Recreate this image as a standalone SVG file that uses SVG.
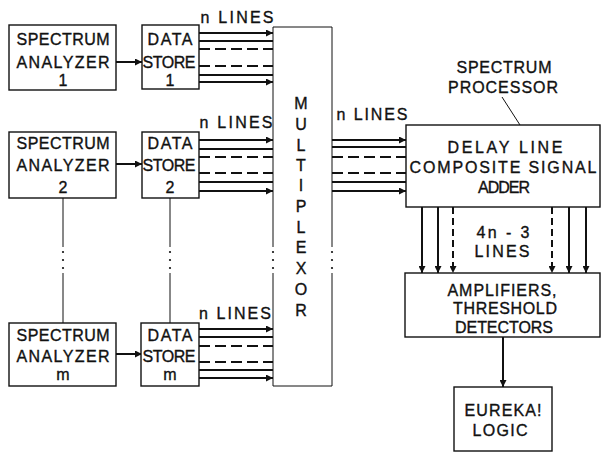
<svg xmlns="http://www.w3.org/2000/svg" width="603" height="453" viewBox="0 0 603 453">
<defs>
<style>
text{font-family:"Liberation Sans",Arial,sans-serif;font-size:16px;fill:#111;stroke:#111;stroke-width:0.35;text-anchor:middle;}
.box{fill:#fff;stroke:#111;stroke-width:1.4;}
.ln{stroke:#111;stroke-width:2;fill:none;}
.dl{stroke:#111;stroke-width:2;fill:none;stroke-dasharray:11 5;}
.dv{stroke:#111;stroke-width:2;fill:none;stroke-dasharray:7 4;}
.thin{stroke:#111;stroke-width:1;fill:none;}
.dot{fill:#111;}
</style>
<marker id="ah" viewBox="0 0 10 10" refX="10" refY="5" markerWidth="9" markerHeight="7" orient="auto" markerUnits="userSpaceOnUse">
<path d="M0,0 L10,5 L0,10 z" fill="#111"/>
</marker>
</defs>
<rect width="603" height="453" fill="#fff"/>

<g id="connectors">
<line class="ln" x1="116" y1="62" x2="142" y2="62" marker-end="url(#ah)"/>
<line class="ln" x1="116" y1="164" x2="142" y2="164" marker-end="url(#ah)"/>
<line class="ln" x1="116" y1="354" x2="142" y2="354" marker-end="url(#ah)"/>
<line class="ln" x1="199" y1="33" x2="273" y2="33" marker-end="url(#ah)"/>
<line class="ln" x1="199" y1="41" x2="273" y2="41"/>
<line class="dl" x1="199" y1="49" x2="273" y2="49"/>
<line class="dl" x1="199" y1="66" x2="273" y2="66"/>
<line class="ln" x1="199" y1="75" x2="273" y2="75"/>
<line class="ln" x1="199" y1="82" x2="273" y2="82" marker-end="url(#ah)"/>
<line class="ln" x1="199" y1="140" x2="273" y2="140" marker-end="url(#ah)"/>
<line class="ln" x1="199" y1="149" x2="273" y2="149"/>
<line class="dl" x1="199" y1="157" x2="273" y2="157"/>
<line class="dl" x1="199" y1="173" x2="273" y2="173"/>
<line class="ln" x1="199" y1="182" x2="273" y2="182"/>
<line class="ln" x1="199" y1="191" x2="273" y2="191" marker-end="url(#ah)"/>
<line class="ln" x1="199" y1="329" x2="273" y2="329" marker-end="url(#ah)"/>
<line class="ln" x1="199" y1="337" x2="273" y2="337"/>
<line class="dl" x1="199" y1="346" x2="273" y2="346"/>
<line class="dl" x1="199" y1="362" x2="273" y2="362"/>
<line class="ln" x1="199" y1="370" x2="273" y2="370"/>
<line class="ln" x1="199" y1="378" x2="273" y2="378" marker-end="url(#ah)"/>
<line class="ln" x1="332" y1="140" x2="406" y2="140" marker-end="url(#ah)"/>
<line class="ln" x1="332" y1="147" x2="406" y2="147"/>
<line class="dl" x1="332" y1="157" x2="406" y2="157"/>
<line class="dl" x1="332" y1="173" x2="406" y2="173"/>
<line class="ln" x1="332" y1="182" x2="406" y2="182"/>
<line class="ln" x1="332" y1="191" x2="406" y2="191" marker-end="url(#ah)"/>
<line class="ln" x1="422" y1="207" x2="422" y2="273" marker-end="url(#ah)"/>
<line class="ln" x1="438" y1="207" x2="438" y2="273" marker-end="url(#ah)"/>
<line class="dv" x1="453" y1="207" x2="453" y2="273" marker-end="url(#ah)"/>
<line class="dv" x1="552" y1="207" x2="552" y2="273" marker-end="url(#ah)"/>
<line class="ln" x1="569" y1="207" x2="569" y2="273" marker-end="url(#ah)"/>
<line class="ln" x1="586" y1="207" x2="586" y2="273" marker-end="url(#ah)"/>
<line class="ln" x1="503" y1="337" x2="503" y2="387" marker-end="url(#ah)"/>
<line class="thin" x1="63" y1="198" x2="63" y2="247"/>
<line class="thin" x1="63" y1="273" x2="63" y2="323"/>
<circle class="dot" cx="63" cy="252" r="1.1"/><circle class="dot" cx="63" cy="260" r="1.1"/><circle class="dot" cx="63" cy="268" r="1.1"/>
<line class="thin" x1="170" y1="198" x2="170" y2="247"/>
<line class="thin" x1="170" y1="273" x2="170" y2="323"/>
<circle class="dot" cx="170" cy="252" r="1.1"/><circle class="dot" cx="170" cy="260" r="1.1"/><circle class="dot" cx="170" cy="268" r="1.1"/>
<line class="thin" x1="502" y1="97" x2="520" y2="125" stroke-width="0.8"/>
</g>

<g id="analyzer1">
<rect class="box" x="9" y="25" width="107" height="65"/>
<text x="63" y="45" textLength="93" lengthAdjust="spacing">SPECTRUM</text>
<text x="63" y="68" textLength="93" lengthAdjust="spacing">ANALYZER</text>
<text x="63" y="86">1</text>
</g>
<g id="analyzer2">
<rect class="box" x="9" y="132" width="107" height="66"/>
<text x="63" y="149" textLength="93" lengthAdjust="spacing">SPECTRUM</text>
<text x="63" y="171" textLength="93" lengthAdjust="spacing">ANALYZER</text>
<text x="63" y="193">2</text>
</g>
<g id="analyzerm">
<rect class="box" x="9" y="323" width="107" height="63"/>
<text x="63" y="341" textLength="93" lengthAdjust="spacing">SPECTRUM</text>
<text x="63" y="362" textLength="93" lengthAdjust="spacing">ANALYZER</text>
<text x="63" y="380">m</text>
</g>

<g id="store1">
<rect class="box" x="142" y="25" width="57" height="64"/>
<text x="170" y="45" textLength="45" lengthAdjust="spacing">DATA</text>
<text x="169" y="68" textLength="53" lengthAdjust="spacing">STORE</text>
<text x="170" y="86">1</text>
</g>
<g id="store2">
<rect class="box" x="142" y="132" width="57" height="66"/>
<text x="170" y="149" textLength="45" lengthAdjust="spacing">DATA</text>
<text x="169" y="171" textLength="53" lengthAdjust="spacing">STORE</text>
<text x="170" y="193">2</text>
</g>
<g id="storem">
<rect class="box" x="141" y="323" width="58" height="63"/>
<text x="170" y="341" textLength="45" lengthAdjust="spacing">DATA</text>
<text x="169" y="362" textLength="53" lengthAdjust="spacing">STORE</text>
<text x="170" y="380">m</text>
</g>

<g id="labels-nlines">
<text x="237" y="23" textLength="73" lengthAdjust="spacing">n LINES</text>
<text x="236" y="128" textLength="73" lengthAdjust="spacing">n LINES</text>
<text x="235" y="319" textLength="72" lengthAdjust="spacing">n LINES</text>
<text x="372" y="120" textLength="71" lengthAdjust="spacing">n LINES</text>
</g>

<g id="multiplexor">
<path class="thin" d="M273,27 H332 M273,386 H332" stroke-width="1.4"/>
<path class="thin" d="M273,27 V247 M273,273 V386 M332,27 V247 M332,273 V386" stroke-width="1.4"/>
<circle class="dot" cx="273" cy="252" r="1.1"/><circle class="dot" cx="273" cy="260" r="1.1"/><circle class="dot" cx="273" cy="268" r="1.1"/>
<circle class="dot" cx="332" cy="252" r="1.1"/><circle class="dot" cx="332" cy="260" r="1.1"/><circle class="dot" cx="332" cy="268" r="1.1"/>
<text x="301" y="109">M</text>
<text x="301" y="130">U</text>
<text x="301" y="151">L</text>
<text x="301" y="171">T</text>
<text x="301" y="191">I</text>
<text x="301" y="212">P</text>
<text x="301" y="233">L</text>
<text x="301" y="253">E</text>
<text x="301" y="274">X</text>
<text x="301" y="295">O</text>
<text x="301" y="316">R</text>
</g>

<g id="processor-label">
<text x="504" y="73" textLength="95" lengthAdjust="spacing">SPECTRUM</text>
<text x="503" y="93" textLength="110" lengthAdjust="spacing">PROCESSOR</text>
</g>

<g id="delayline">
<rect class="box" x="406" y="125" width="194" height="82"/>
<text x="505" y="153" textLength="115" lengthAdjust="spacing">DELAY LINE</text>
<text x="503" y="173" textLength="187" lengthAdjust="spacing">COMPOSITE SIGNAL</text>
<text x="504" y="193" textLength="52" lengthAdjust="spacing">ADDER</text>
</g>

<g id="lines-label">
<text x="503" y="238" textLength="53" lengthAdjust="spacing">4n - 3</text>
<text x="502" y="257" textLength="55" lengthAdjust="spacing">LINES</text>
</g>

<g id="amplifiers">
<rect class="box" x="405" y="273" width="195" height="64"/>
<text x="502" y="296" textLength="109" lengthAdjust="spacing">AMPLIFIERS,</text>
<text x="505" y="314" textLength="104" lengthAdjust="spacing">THRESHOLD</text>
<text x="504" y="333" textLength="98" lengthAdjust="spacing">DETECTORS</text>
</g>

<g id="eureka">
<rect class="box" x="454" y="387" width="98" height="64"/>
<text x="503" y="416" textLength="77" lengthAdjust="spacing">EUREKA!</text>
<text x="500" y="436" textLength="55" lengthAdjust="spacing">LOGIC</text>
</g>
</svg>
